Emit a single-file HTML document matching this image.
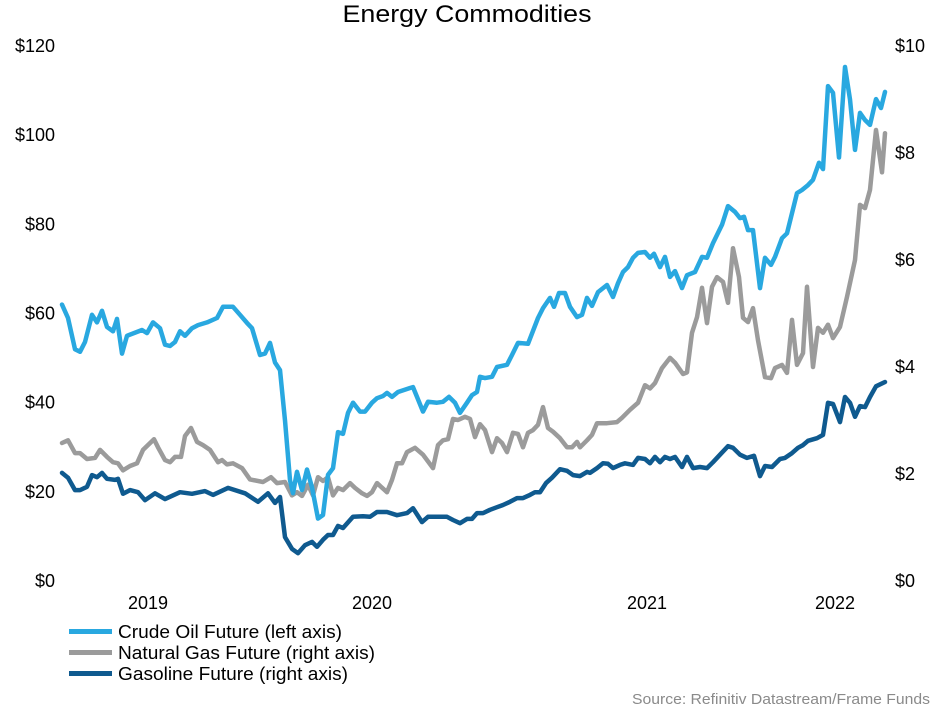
<!DOCTYPE html>
<html><head><meta charset="utf-8"><style>
body{margin:0;background:#fff;}
svg{display:block;font-family:"Liberation Sans",Arial,sans-serif;}
</style></head><body>
<svg id="chart" width="940" height="709" viewBox="0 0 940 709" xmlns="http://www.w3.org/2000/svg">
<text x="467" y="22" text-anchor="middle" font-size="24" textLength="249" lengthAdjust="spacingAndGlyphs" fill="#000">Energy Commodities</text>
<g id="axes"></g>
<g id="series"></g>
<g>
<g><rect x="69" y="629" width="43" height="5" fill="#29a8e0"/><text x="118" y="638" font-size="18" textLength="224" lengthAdjust="spacingAndGlyphs">Crude Oil Future (left axis)</text></g>
<g><rect x="69" y="650" width="43" height="5" fill="#9b9b9b"/><text x="118" y="659" font-size="18" textLength="257" lengthAdjust="spacingAndGlyphs">Natural Gas Future (right axis)</text></g>
<g><rect x="69" y="671" width="43" height="5" fill="#0f5a8f"/><text x="118" y="680" font-size="18" textLength="230" lengthAdjust="spacingAndGlyphs">Gasoline Future (right axis)</text></g>
</g>
<text x="930" y="704" text-anchor="end" font-size="15" fill="#8a8a8a" textLength="298" lengthAdjust="spacingAndGlyphs">Source: Refinitiv Datastream/Frame Funds</text>
</svg>
<script>
const leftTicks=[0,20,40,60,80,100,120];
const leftTickLabels=["$0","$20","$40","$60","$80","$100","$120"];
const rightTicks=[0,2,4,6,8,10];
const rightTickLabels=["$0","$2","$4","$6","$8","$10"];
const yearWeeks=[17.2,62,117,154.6];
const yearLabels=["2019","2020","2021","2022"];

const crudeWeeks=[0,1.2,2.6,3.6,4.6,6,7,8,9,10.2,11,12,13,16,17,18.2,19.6,20.6,21.6,22.6,23.6,24.6,26,27.2,29,31,32.2,34.2,35.6,37,38,39.6,40.6,41.6,42.6,43.6,44.6,45.6,46.2,47,48,49,50,51.2,52.2,53.2,54.2,55.2,56.2,57.2,58.2,59.6,60.6,62,63,64.2,65,66,67.2,69.6,70.2,71,72.2,73.2,75,76.2,77.4,78.6,79.6,81,82,83,83.6,84.6,86,87,89,90,91.2,93.2,95.2,96.2,97.6,98.4,99.4,100.6,101.6,103,104,105,106,107.2,109,110.2,111.2,112.2,113.2,114.2,115.2,116.6,117.6,118.4,119.6,120.6,121.6,122.6,124,125,126.6,128,129,130.2,132,133.2,134.6,135.6,136.4,137.2,138.2,139.6,140.6,141.8,142.6,144,145,147,148,149.2,150.2,151.4,152.2,153.2,154.2,155.4,156.6,157.6,158.6,159.6,160.6,161.6,162.8,163.8,164.6];
const crudeValues=[62,59,52,51.4,53.6,59.7,58,60.6,57,56,58.8,51,55,56.3,55.6,58,56.7,53,52.7,53.6,56,55,56.7,57.4,58,59,61.5,61.5,59.7,57.9,56.7,50.7,51,53.4,49,47.3,36,22.6,19.7,24.5,20.4,25,21,14,14.8,23.8,25.3,33.4,33,37.7,40,38,38,40,41,41.5,42.2,41.3,42.4,43.3,43.5,41.3,38,40.2,40,40.2,41.3,40,37.7,40,41.7,42.4,45.8,45.5,45.8,48,48.5,50.7,53.4,53.2,59,61.2,63.5,61.5,64.6,64.6,61.5,59.2,59.7,63.5,61.7,64.8,66.4,63.7,66.8,69.3,70.4,72.5,73.6,73.8,72.5,73.4,70.4,72.7,68.2,69.5,65.7,68.6,69.3,72.7,72.5,75.8,79.9,84.1,82.8,81.4,81.7,78.7,78.7,65.7,72.5,70.9,72.7,76.9,78,87,87.7,88.8,90,93.8,92.4,111,109.5,95,115.3,108,96.7,105,103.4,102.3,108.1,106.1,109.7];

const gasWeeks=[0,1.2,2.6,3.6,5,6.6,7.6,9,10.2,11.2,12.2,13.6,15,16.2,18.4,19.2,20.6,21.6,22.6,23.8,24.6,25.8,27,28.2,29.6,31.2,32,33,34.2,36,37.6,40.2,41.8,43,44.6,46,47,48,49.2,50.2,51.2,52.2,53.2,54.2,55.2,56.2,57.6,58.6,60,61,62,63,65,66,67,68,69,70.6,72.2,74.2,75.2,76.2,77.2,78.2,79.2,80.6,81.6,82.6,83.6,84.6,86,87,88,89,90.2,91.2,92.2,93.2,94.2,95.2,96.2,97.2,98.2,99.6,101,102,103,103.6,105,106,107,109,111,112,113.6,115.2,116.6,117.6,118.6,120,121.6,122.6,124.2,125,126,127,128,129,130,131,132.2,133.2,134.2,135.4,136.2,137.2,138.2,139.2,140.6,141.8,142.6,144,145,146,147,148.2,149,150.2,151.2,152.2,153.2,154.2,155.6,157,158.6,159.6,160.6,161.6,162.8,164,164.6];
const gasValues=[2.58,2.63,2.39,2.39,2.28,2.3,2.45,2.32,2.22,2.2,2.07,2.15,2.2,2.45,2.65,2.5,2.26,2.22,2.32,2.32,2.71,2.86,2.6,2.54,2.45,2.22,2.26,2.18,2.2,2.11,1.9,1.85,1.94,1.83,1.85,1.6,1.66,1.59,1.8,1.6,1.94,1.87,1.94,1.6,1.74,1.7,1.83,1.74,1.64,1.59,1.66,1.83,1.66,1.89,2.2,2.2,2.41,2.49,2.36,2.11,2.54,2.63,2.65,3.03,3.01,3.07,3.03,2.69,2.93,2.82,2.41,2.67,2.58,2.41,2.77,2.75,2.5,2.77,2.82,2.92,3.25,2.86,2.79,2.67,2.5,2.5,2.6,2.5,2.63,2.73,2.95,2.95,2.97,3.05,3.2,3.33,3.66,3.6,3.7,3.98,4.17,4.08,3.87,3.9,4.64,4.93,5.48,4.82,5.5,5.68,5.59,5.2,6.22,5.68,4.92,4.84,5.1,4.5,3.81,3.79,3.98,4.04,3.89,4.88,4.04,4.26,5.5,4.0,4.73,4.64,4.79,4.54,4.75,5.31,6.0,7.03,6.97,7.31,8.43,7.64,8.37];

const gasolineWeeks=[0,1.2,2.6,3.6,5,6,7,8,9,10.6,11.2,12.2,13.6,15.2,16.6,18.6,20.6,23.6,26,28.6,30.2,33.2,36.6,39.2,41.2,42.6,43.6,44.6,46,47.2,48.6,50,51,52.2,53.2,54.2,55.2,56.2,58.2,60.2,61.6,63,65,67,69,70.2,72,73.2,75,77,78.2,79.6,81,82,83,84.2,85.6,87,88.2,89.6,91,92.2,93.6,94.6,95.6,96.8,98,99.6,101,102.2,103.6,105,105.6,107,108.2,109.2,110.2,111.6,112.6,114.2,115.2,116.6,117.6,118.6,119.6,120.6,121.6,122.6,124,125,126.2,127.6,129,130.2,131.6,133.2,134.2,135.6,137,138.4,139.6,140.6,142,143.6,144.6,146,147.2,148.2,149.2,151,152.2,153.2,154.2,155.6,156.6,157.6,158.6,159.6,160.6,161.6,162.8,164.6];
const gasolineValues=[2.02,1.93,1.7,1.7,1.76,1.98,1.94,2.02,1.91,1.89,1.91,1.63,1.7,1.66,1.51,1.64,1.53,1.66,1.63,1.68,1.61,1.74,1.64,1.48,1.64,1.46,1.57,0.82,0.6,0.52,0.67,0.73,0.64,0.77,0.86,0.86,1.03,0.99,1.2,1.21,1.2,1.29,1.29,1.23,1.27,1.36,1.1,1.2,1.2,1.2,1.14,1.08,1.16,1.16,1.27,1.27,1.33,1.38,1.42,1.48,1.55,1.55,1.61,1.66,1.66,1.83,1.93,2.09,2.06,1.98,1.96,2.04,2.02,2.11,2.2,2.19,2.11,2.17,2.2,2.17,2.3,2.28,2.2,2.32,2.22,2.32,2.28,2.32,2.13,2.32,2.11,2.13,2.11,2.22,2.36,2.52,2.49,2.36,2.3,2.34,1.96,2.15,2.13,2.28,2.3,2.39,2.49,2.54,2.62,2.67,2.73,3.33,3.31,2.97,3.44,3.33,3.07,3.27,3.25,3.44,3.64,3.72];

const NS="http://www.w3.org/2000/svg";
const X0=62,X1=885,W0=0,W1=164.6,Y0=581,YTOP=46;
function xScale(w){return X0+(w-W0)/(W1-W0)*(X1-X0);}
function yLeft(v){return Y0-v/120*(Y0-YTOP);}
function yRight(v){return Y0-v/10*(Y0-YTOP);}
const axes=document.getElementById('axes'),series=document.getElementById('series');
function mk(tag,attrs,parent,txt){const e=document.createElementNS(NS,tag);for(const k in attrs)e.setAttribute(k,attrs[k]);if(txt!==undefined)e.textContent=txt;parent.appendChild(e);return e;}
leftTicks.forEach((v,i)=>{
  const t=mk('text',{x:55,y:yLeft(v)+6,'text-anchor':'end','font-size':18},axes,leftTickLabels[i]);
  
  
});
rightTicks.forEach((v,i)=>{
  const t=mk('text',{x:895,y:yRight(v)+6,'text-anchor':'start','font-size':18},axes,rightTickLabels[i]);
  
  
});
yearWeeks.forEach((w,i)=>{
  const t=mk('text',{x:xScale(w),y:609,'text-anchor':'middle','font-size':18},axes,yearLabels[i]);
  
  
});
function line(ws,vs,ys,color){
  const d=ws.map((w,i)=>(i?'L':'M')+xScale(w).toFixed(1)+' '+ys(vs[i]).toFixed(1)).join(' ');
  return mk('path',{d:d,fill:'none',stroke:color,'stroke-width':4.5,'stroke-linejoin':'round','stroke-linecap':'round'},series);
}
const g=line(gasWeeks,gasValues,yRight,'#9b9b9b');


const c=line(crudeWeeks,crudeValues,yLeft,'#29a8e0');


const s=line(gasolineWeeks,gasolineValues,yRight,'#0f5a8f');


</script>
</body></html>
